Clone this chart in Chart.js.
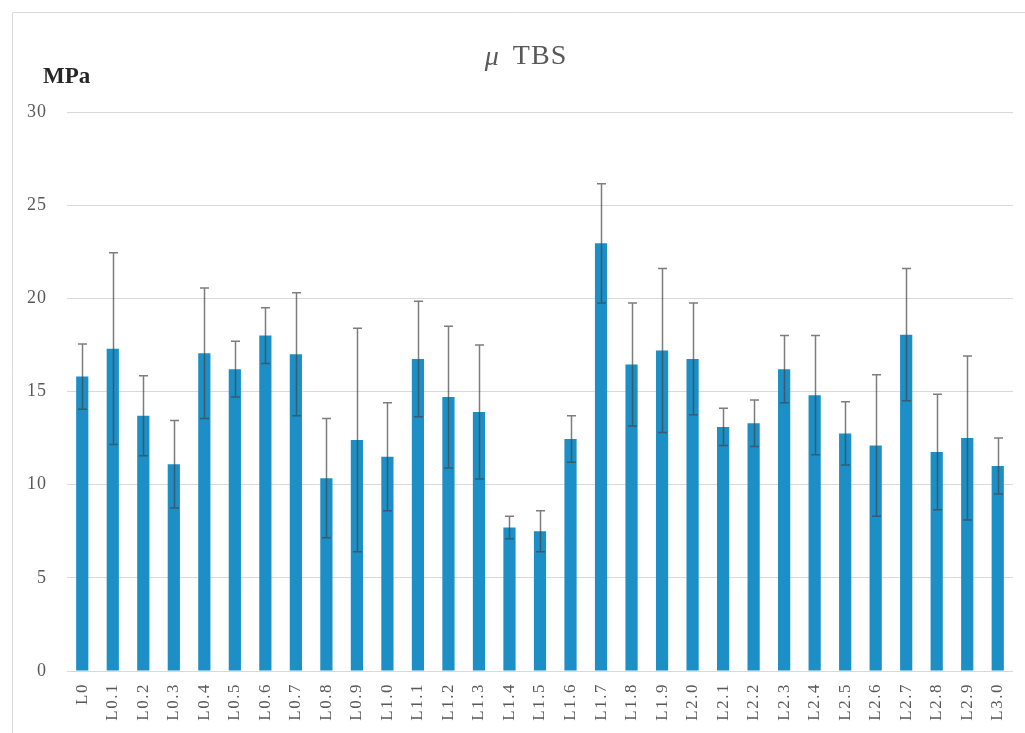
<!DOCTYPE html>
<html>
<head>
<meta charset="utf-8">
<script src="https://cdn.jsdelivr.net/npm/chart.js@4/dist/chart.umd.min.js"></script>
<style>
html,body{margin:0;padding:0;background:#fff;}
#wrap{width:1025px;height:733px;}
</style>
</head>
<body>
<div id="wrap"><canvas id="c" width="1025" height="733"></canvas></div>
<script>
const categories = ["L0","L0.1","L0.2","L0.3","L0.4","L0.5","L0.6","L0.7","L0.8","L0.9",
  "L1.0","L1.1","L1.2","L1.3","L1.4","L1.5","L1.6","L1.7","L1.8","L1.9",
  "L2.0","L2.1","L2.2","L2.3","L2.4","L2.5","L2.6","L2.7","L2.8","L2.9","L3.0"];
const meanValues = [15.8,17.3,13.7,11.1,17.05,16.2,18.0,17.0,10.35,12.4,
  11.5,16.75,14.7,13.9,7.7,7.5,12.45,22.95,16.45,17.2,
  16.75,13.1,13.3,16.2,14.8,12.75,12.1,18.05,11.75,12.5,11.0];
const sdValues = [1.75,5.15,2.15,2.35,3.5,1.5,1.5,3.3,3.2,6.0,
  2.9,3.1,3.8,3.6,0.6,1.1,1.25,3.2,3.3,4.4,
  3.0,1.0,1.25,1.8,3.2,1.7,3.8,3.55,3.1,4.4,1.5];
const yTicks = [0,5,10,15,20,25,30];
const titleSymbol = "\u03BC";
const titleWord = "TBS";
const unitText = "MPa";

const serif = "'Liberation Serif','DejaVu Serif',serif";

function spaced(scale, spacing) {
  const orig = scale.drawLabels;
  scale.drawLabels = function (ca) {
    const c = this.ctx;
    const prev = c.letterSpacing;
    c.letterSpacing = spacing;
    orig.call(this, ca);
    c.letterSpacing = prev || '0px';
  };
  scale._spacedWrapped = true;
}

const framePlugin = {
  id: 'frame',
  beforeDraw(chart) {
    const ctx = chart.ctx;
    ctx.save();
    ctx.fillStyle = '#ffffff';
    ctx.fillRect(0, 0, chart.width, chart.height);
    ctx.strokeStyle = '#d9d9d9';
    ctx.lineWidth = 1;
    ctx.beginPath();
    ctx.moveTo(12.5, chart.height);
    ctx.lineTo(12.5, 12.5);
    ctx.lineTo(chart.width, 12.5);
    ctx.stroke();
    ctx.restore();
  },
  afterDraw(chart) {
    const ctx = chart.ctx;
    ctx.save();
    ctx.font = "bold 23px " + serif;
    ctx.fillStyle = '#262626';
    ctx.textAlign = 'left';
    ctx.textBaseline = 'middle';
    ctx.fillText(unitText, 43, 77);
    const fSym = "italic 28px " + serif;
    const fWord = "28px " + serif;
    ctx.font = fSym;
    const wSym = ctx.measureText(titleSymbol).width;
    ctx.font = fWord;
    ctx.letterSpacing = '1px';
    const wWord = ctx.measureText(titleWord).width;
    const gap = 14;
    const total = wSym + gap + wWord;
    const cx = 526;
    let x = cx - total / 2;
    ctx.fillStyle = '#595959';
    ctx.textBaseline = 'middle';
    ctx.letterSpacing = '0px';
    ctx.font = fSym;
    ctx.fillText(titleSymbol, x, 58);
    ctx.font = fWord;
    ctx.letterSpacing = '1px';
    ctx.fillText(titleWord, x + wSym + gap, 57);
    ctx.restore();
  }
};

const errorBarPlugin = {
  id: 'errorBars',
  afterDatasetsDraw(chart) {
    const ctx = chart.ctx;
    const meta = chart.getDatasetMeta(0);
    const ys = chart.scales.y;
    ctx.save();
    ctx.strokeStyle = 'rgba(70,70,70,0.7)';
    ctx.lineWidth = 1.5;
    meta.data.forEach((bar, i) => {
      const x = Math.round(bar.x) + 0.5;
      const top = ys.getPixelForValue(meanValues[i] + sdValues[i]);
      const bot = ys.getPixelForValue(meanValues[i] - sdValues[i]);
      ctx.beginPath();
      ctx.moveTo(x, top);
      ctx.lineTo(x, bot);
      ctx.moveTo(x - 4.5, top);
      ctx.lineTo(x + 4.5, top);
      ctx.moveTo(x - 4.5, bot);
      ctx.lineTo(x + 4.5, bot);
      ctx.stroke();
    });
    ctx.restore();
  }
};

new Chart(document.getElementById('c'), {
  type: 'bar',
  data: {
    labels: categories,
    datasets: [{
      label: titleSymbol + " " + titleWord,
      data: meanValues,
      backgroundColor: '#1b8fc6',
      borderWidth: 0,
      barPercentage: 0.4,
      categoryPercentage: 1.0
    }]
  },
  options: {
    responsive: false,
    animation: false,
    devicePixelRatio: 1,
    layout: { padding: { left: 12, right: 12, top: 112, bottom: 0 } },
    plugins: {
      legend: { display: false },
      tooltip: { enabled: false },
      title: { display: false }
    },
    scales: {
      x: {
        grid: { display: false },
        border: { display: false },
        ticks: {
          color: '#595959',
          font: { family: serif, size: 17 },
          minRotation: 90,
          maxRotation: 90,
          autoSkip: false,
          padding: 4
        },
        afterFit(scale) { scale.height = 62; },
        afterUpdate(scale) { if (!scale._spacedWrapped) spaced(scale, '1.5px'); }
      },
      y: {
        min: 0,
        max: 30,
        afterBuildTicks(scale) { scale.ticks = yTicks.map(v => ({ value: v })); },
        grid: { color: '#d9d9d9', lineWidth: 1, drawTicks: false },
        border: { display: false },
        ticks: {
          color: '#595959',
          font: { family: serif, size: 18 },
          padding: 20
        },
        afterFit(scale) { scale.width = 55; },
        afterUpdate(scale) { if (!scale._spacedWrapped) spaced(scale, '1px'); }
      }
    }
  },
  plugins: [framePlugin, errorBarPlugin]
});
</script>
</body>
</html>
